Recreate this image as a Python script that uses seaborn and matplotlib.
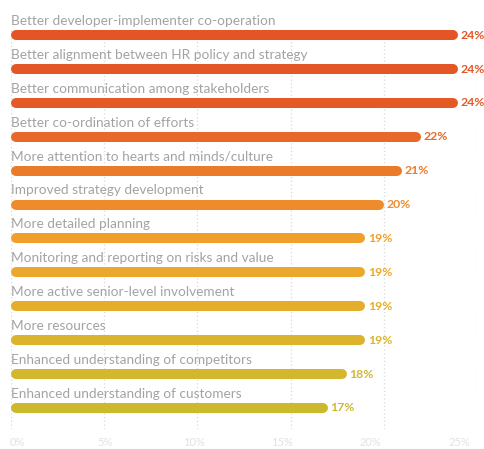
import matplotlib
matplotlib.use("Agg")
import matplotlib.pyplot as plt
import matplotlib.transforms as mtransforms
import seaborn as sns
import pandas as pd

categories = [
    "Better developer-implementer co-operation",
    "Better alignment between HR policy and strategy",
    "Better communication among stakeholders",
    "Better co-ordination of efforts",
    "More attention to hearts and minds/culture",
    "Improved strategy development",
    "More detailed planning",
    "Monitoring and reporting on risks and value",
    "More active senior-level involvement",
    "More resources",
    "Enhanced understanding of competitors",
    "Enhanced understanding of customers",
]
values = [24, 24, 24, 22, 21, 20, 19, 19, 19, 19, 18, 17]
bar_colors = [
    "#E35526", "#E35726", "#E35A27", "#E76828", "#EB7A2A", "#EE8C2B",
    "#F09F2C", "#ECA82C", "#E4AE2C", "#DCB32C", "#D4B72D", "#CDB92D",
]
x_ticks = [0, 5, 10, 15, 20, 25]
x_tick_labels = ["0%", "5%", "10%", "15%", "20%", "25%"]

df = pd.DataFrame({"category": categories, "value": values})

sns.set_theme(style="white")
plt.rcParams["font.family"] = ["Lato", "DejaVu Sans"]

fig = plt.figure(figsize=(4.84, 4.49), dpi=100)
ax = fig.add_axes([11 / 484, 1 - 429 / 449, 466 / 484, 401 / 449])

sns.barplot(data=df, y="category", x="value", hue="category",
            palette=bar_colors, legend=False, width=0.3, ax=ax, orient="h")

ax.set_xlim(0, 25)
ax.set_ylim(11.62, -0.21)

fig.canvas.draw()
# bar thickness in points and half-thickness in data units for rounded ends
bar_px = 10.0
px_per_unit = ax.transData.transform((1, 0))[0] - ax.transData.transform((0, 0))[0]
r = (bar_px / 2) / px_per_unit
lw_pt = bar_px * 72 / fig.dpi

for patch, color, cat, val in zip(ax.patches, bar_colors, categories, values):
    x0 = patch.get_x()
    w = patch.get_width()
    yc = patch.get_y() + patch.get_height() / 2
    patch.set_visible(False)
    ax.plot([x0 + r, x0 + w - r], [yc, yc], color=color, lw=lw_pt,
            solid_capstyle="round", zorder=3)
    ax.text(x0 + w + 2.5 / px_per_unit, yc, f"{val}%", color=color,
            fontsize=8.8, fontweight="bold", va="center", ha="left",
            clip_on=False, zorder=4)
    ax.text(0, yc - 0.30, cat, color="#A3A3A3", fontsize=9.8,
            va="baseline", ha="left", clip_on=False, zorder=4)

for xv in x_ticks:
    ax.axvline(xv, color="#D9D9D9", lw=0.9, ls=(0, (1, 2)), zorder=1)

ax.set_xticks(x_ticks)
ax.set_xticklabels(x_tick_labels, color="#E2E2E2", fontsize=8)
ax.tick_params(axis="x", length=0, pad=6)
# tick labels sit on a slightly compressed scale, drifting left of their gridlines
for i, lab in enumerate(ax.get_xticklabels()):
    dx = (6 - 4.8 * i) / fig.dpi
    lab.set_transform(lab.get_transform() +
                      mtransforms.ScaledTranslation(dx, 0, fig.dpi_scale_trans))
ax.set_yticks([])
ax.set_xlabel("")
ax.set_ylabel("")
for s in ax.spines.values():
    s.set_visible(False)

fig.savefig("out.png", dpi=100)
